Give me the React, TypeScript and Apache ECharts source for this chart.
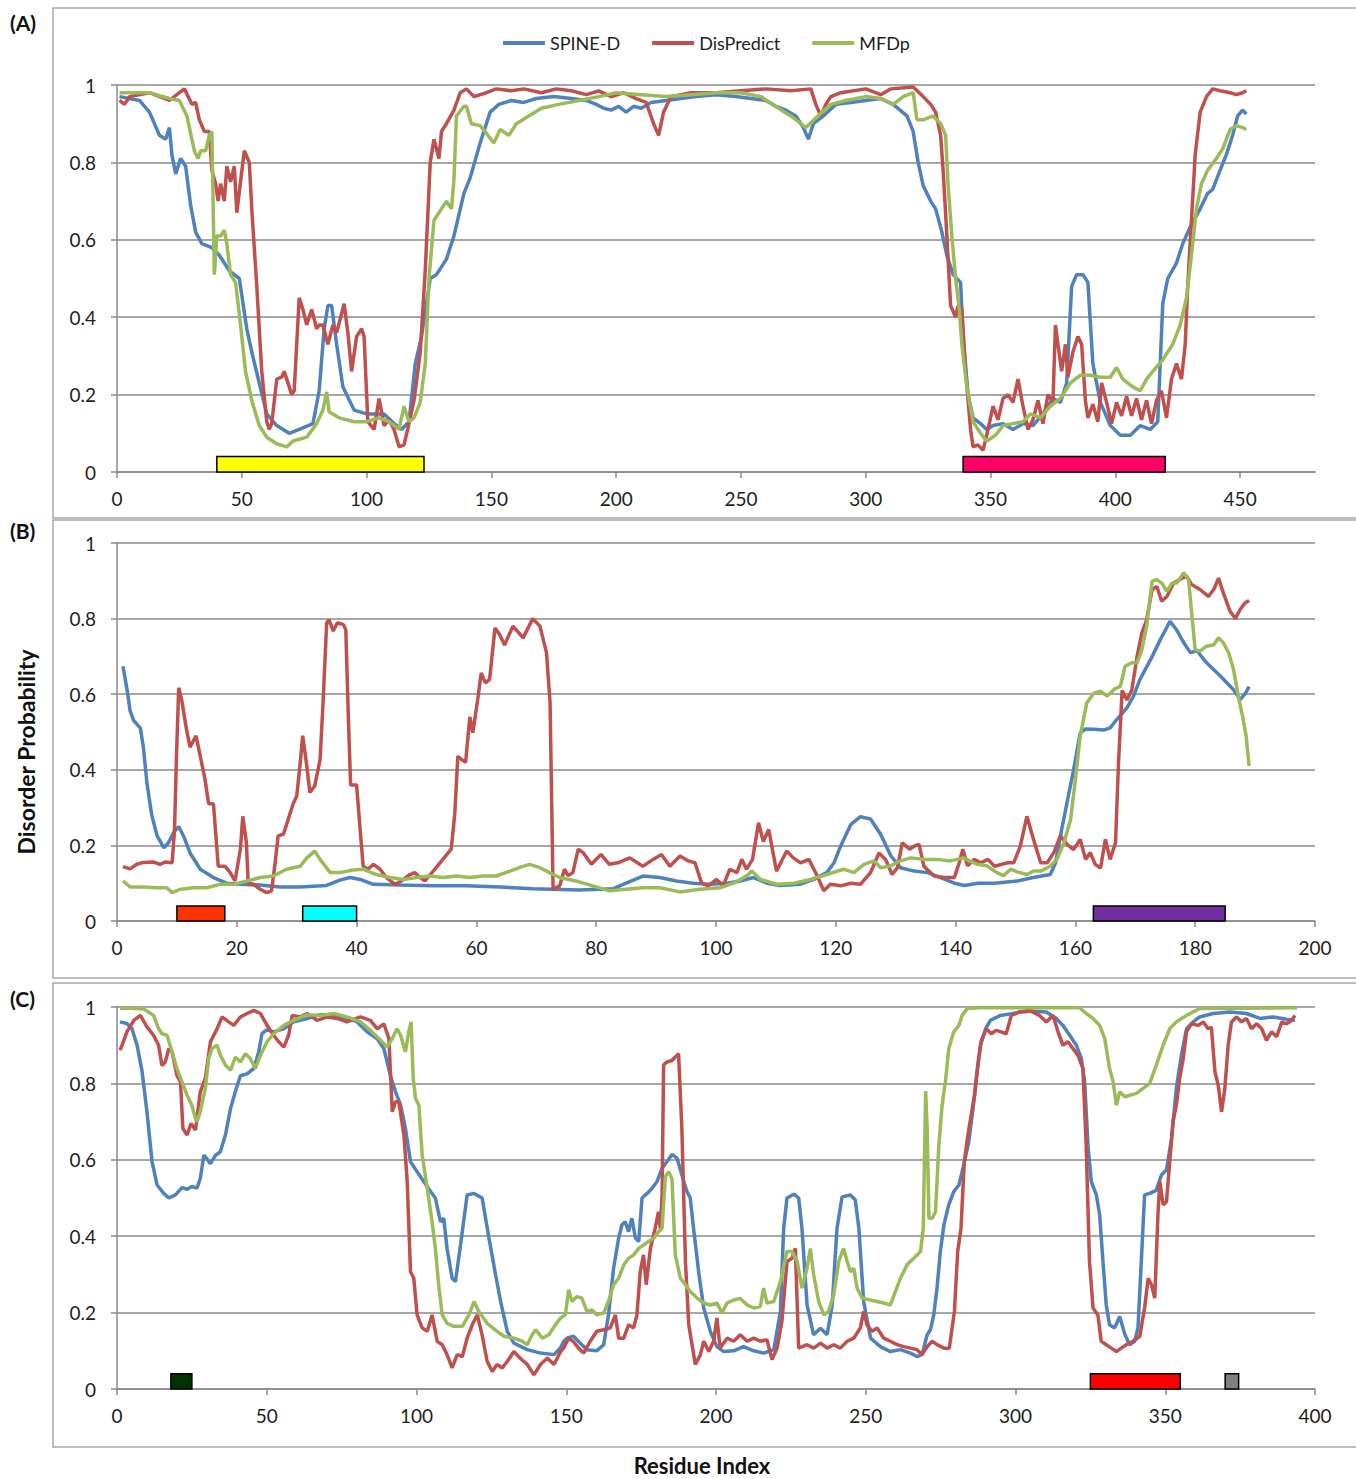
import React, { useEffect, useRef } from "react";
import * as echarts from "echarts";

const SERIES_NAMES = ["SPINE-D", "DisPredict", "MFDp"];
const SERIES_COLORS = ["#4F81BD", "#C0504D", "#9BBB59"];

const xTicksA = [0, 50, 100, 150, 200, 250, 300, 350, 400, 450];
const xTicksB = [0, 20, 40, 60, 80, 100, 120, 140, 160, 180, 200];
const xTicksC = [0, 50, 100, 150, 200, 250, 300, 350, 400];
const yTicks = [0, 0.2, 0.4, 0.6, 0.8, 1];
const xMaxA = 480;
const xMaxB = 200;
const xMaxC = 400;

// annotated regions [start residue, end residue]
const regionsA = [[40, 123], [339, 420]];
const regionColorsA = ["#FFFF00", "#FF0066"];
const regionsB = [[10, 18], [31, 40], [163, 185]];
const regionColorsB = ["#FF3300", "#00FFFF", "#7030A0"];
const regionsC = [[18, 25], [325, 355], [370, 374.5]];
const regionColorsC = ["#003300", "#FF0000", "#808080"];
const REGION_HEIGHT = 0.04;

// ---------- Panel A ----------
const spineA = [[1,0.97],[9,0.96],[13,0.93],[17,0.87],[19.5,0.86],[21,0.89],[22,0.82],[23.5,0.77],[25.5,0.81],[27.5,0.79],[29.5,0.69],[31.5,0.62],[34,0.59],[38,0.58],[41,0.56],[45,0.52],[49,0.50],[52,0.37],[54,0.31],[57,0.23],[60,0.15],[64,0.12],[69,0.10],[73,0.11],[78.5,0.125],[81,0.21],[83,0.37],[84.5,0.43],[86,0.43],[88,0.33],[90.5,0.22],[95,0.16],[100,0.15],[107,0.15],[111,0.125],[114,0.11],[117,0.13],[119.5,0.28],[122,0.35],[125.5,0.50],[128,0.51],[132,0.55],[135,0.61],[139,0.72],[141.5,0.76],[145.5,0.85],[149.5,0.93],[153,0.95],[158,0.96],[163,0.955],[168,0.965],[175,0.97],[182,0.965],[188,0.96],[192,0.95],[195,0.94],[198,0.935],[201,0.945],[204,0.93],[207,0.945],[210,0.94],[214,0.955],[220,0.96],[226,0.965],[232,0.97],[240,0.975],[248,0.97],[254,0.965],[260,0.96],[264,0.945],[268,0.935],[272,0.92],[275,0.89],[277,0.86],[279,0.9],[283,0.92],[288,0.95],[294,0.955],[300,0.96],[306,0.965],[311,0.95],[316.5,0.92],[319,0.88],[321,0.80],[323,0.74],[326,0.70],[328,0.68],[330.5,0.62],[332.5,0.56],[335,0.51],[338,0.49],[339,0.35],[341,0.20],[343,0.14],[346,0.125],[348.5,0.11],[351,0.12],[355,0.125],[359,0.11],[363,0.125],[367,0.12],[371,0.15],[375,0.19],[378,0.18],[380.5,0.23],[382.5,0.48],[384.5,0.51],[387,0.51],[389,0.49],[391,0.28],[394,0.18],[398,0.12],[402,0.095],[406,0.095],[410,0.12],[414,0.11],[417,0.13],[419,0.435],[421,0.50],[424.5,0.54],[427,0.59],[430.5,0.64],[434,0.68],[437,0.72],[439,0.73],[442,0.78],[444.5,0.82],[447,0.87],[449,0.92],[451,0.935],[452.5,0.925]];

const dispredA = [[1,0.96],[3,0.95],[5,0.97],[13,0.98],[21,0.96],[25,0.98],[27,0.99],[30,0.95],[31.5,0.955],[33,0.91],[35,0.88],[37,0.88],[38,0.78],[39.5,0.745],[40.5,0.70],[41.5,0.745],[43,0.70],[44,0.79],[45.5,0.75],[47,0.79],[48,0.67],[49.5,0.75],[51,0.83],[53,0.80],[54,0.68],[56,0.48],[58,0.26],[60,0.13],[61,0.11],[62,0.125],[64,0.24],[66,0.245],[67,0.26],[70,0.20],[71,0.21],[73,0.45],[74.5,0.42],[76,0.38],[78,0.42],[80,0.37],[81,0.38],[82.5,0.38],[84.5,0.33],[86.5,0.38],[88,0.36],[90,0.41],[91,0.435],[92.5,0.36],[94,0.26],[96,0.35],[98,0.37],[99,0.35],[100.5,0.13],[103,0.11],[105,0.19],[107,0.12],[109,0.135],[111,0.11],[113,0.065],[115,0.07],[117,0.125],[119,0.185],[121.5,0.31],[123.5,0.52],[125.5,0.80],[127,0.86],[129,0.81],[130,0.88],[132,0.90],[135,0.935],[137.5,0.98],[140,0.99],[143,0.97],[148,0.98],[152,0.99],[158,0.985],[163,0.99],[170,0.98],[176,0.99],[182,0.985],[188,0.975],[193,0.985],[198,0.97],[203,0.98],[208,0.965],[212,0.955],[215,0.9],[217,0.87],[219,0.93],[222,0.97],[230,0.98],[240,0.98],[250,0.985],[260,0.99],[270,0.985],[278,0.99],[280,0.95],[282,0.92],[284,0.95],[286,0.97],[290,0.98],[300,0.99],[306,0.975],[310,0.99],[319,0.995],[323,0.97],[326,0.95],[328,0.93],[330,0.87],[331,0.78],[332.5,0.61],[334,0.43],[336,0.40],[337,0.43],[338.5,0.42],[340,0.26],[342,0.11],[343,0.065],[345,0.07],[347,0.056],[349,0.11],[351,0.17],[353,0.135],[355,0.19],[357,0.20],[359,0.18],[361,0.24],[363,0.17],[365,0.11],[367,0.135],[369,0.185],[371,0.125],[373,0.20],[375,0.18],[376,0.38],[377,0.33],[378.5,0.26],[380,0.33],[381,0.245],[383,0.31],[385,0.35],[386.5,0.33],[388,0.185],[389,0.14],[391,0.175],[393,0.13],[394.5,0.23],[396.5,0.18],[398.5,0.125],[400.5,0.18],[402.5,0.145],[404.5,0.195],[406.5,0.145],[408.5,0.19],[410.5,0.135],[412.5,0.185],[414.5,0.125],[416.5,0.185],[418.5,0.21],[420.5,0.14],[422.5,0.24],[424.5,0.28],[426.5,0.24],[428,0.33],[429,0.48],[430.5,0.65],[432,0.82],[434,0.93],[436.5,0.97],[439,0.99],[442,0.985],[446,0.98],[448.5,0.975],[451,0.98],[452.5,0.985]];

const mfdpA = [[1,0.98],[13,0.98],[21,0.965],[25,0.96],[28,0.92],[31,0.83],[32.5,0.81],[33.5,0.83],[35.5,0.83],[37,0.87],[38,0.88],[39,0.51],[40,0.61],[41.5,0.61],[43,0.625],[44,0.59],[45.5,0.51],[47.5,0.49],[49.5,0.38],[51.5,0.26],[54,0.185],[57,0.12],[60,0.09],[64,0.073],[68,0.065],[70.5,0.08],[76,0.09],[80,0.125],[82.5,0.16],[84,0.207],[85,0.155],[89,0.14],[95,0.13],[100,0.13],[105,0.14],[109,0.13],[113,0.11],[115,0.17],[117,0.13],[119,0.14],[121.5,0.18],[123.5,0.28],[125,0.50],[127,0.65],[130,0.68],[132,0.70],[134,0.68],[135,0.755],[136,0.92],[139,0.945],[140,0.945],[142,0.90],[145.5,0.895],[148,0.875],[151,0.85],[153.5,0.885],[157,0.87],[160,0.90],[165,0.92],[170,0.94],[177,0.95],[185,0.96],[193,0.97],[200,0.98],[210,0.975],[220,0.97],[230,0.975],[240,0.98],[250,0.98],[258,0.97],[265,0.94],[270,0.92],[274,0.9],[276,0.89],[280,0.915],[286,0.95],[292,0.96],[300,0.97],[306,0.965],[311,0.95],[315,0.97],[319,0.98],[320.5,0.91],[323,0.91],[327,0.92],[330,0.90],[332,0.87],[333,0.74],[334.5,0.61],[336,0.50],[337.5,0.42],[338.5,0.33],[340.5,0.22],[343,0.13],[346,0.10],[348.5,0.08],[352,0.095],[355,0.12],[359,0.125],[363,0.13],[366,0.15],[370,0.14],[374,0.17],[378,0.19],[382,0.23],[386,0.25],[390,0.25],[394,0.245],[398,0.245],[400.5,0.27],[403,0.24],[407,0.22],[410,0.21],[412.5,0.24],[415,0.26],[419,0.29],[423,0.33],[426,0.38],[428.5,0.45],[430.5,0.56],[432.5,0.68],[434.5,0.745],[437,0.78],[440.5,0.81],[443,0.835],[446,0.885],[448.5,0.895],[451,0.89],[452.5,0.885]];

// ---------- Panel B ----------
const spineB = [[1,0.674],[1.7,0.61],[2.2,0.555],[2.8,0.53],[3.9,0.51],[4.4,0.46],[5,0.365],[5.8,0.28],[6.7,0.225],[7.8,0.194],[8.6,0.207],[9.4,0.233],[10.3,0.25],[11.1,0.225],[12.2,0.18],[13.9,0.137],[16.1,0.115],[18.3,0.10],[20.6,0.097],[23.9,0.095],[27.2,0.09],[30.6,0.09],[35,0.094],[37.2,0.108],[38.9,0.115],[40.6,0.11],[42.8,0.097],[47.2,0.095],[52.8,0.093],[58.3,0.093],[63.9,0.09],[69.4,0.085],[77.2,0.082],[82.8,0.085],[85,0.10],[87.8,0.119],[90.6,0.115],[93.4,0.106],[96.2,0.1],[99,0.097],[101.8,0.1],[104,0.106],[106.3,0.115],[108.5,0.1],[110.7,0.094],[114,0.097],[116.3,0.11],[118.5,0.128],[119.7,0.154],[120.8,0.198],[122.5,0.255],[124.1,0.276],[125.8,0.27],[127.5,0.229],[129.2,0.172],[130.8,0.141],[133.1,0.132],[135.3,0.128],[137.5,0.115],[139.8,0.10],[141.5,0.094],[143.7,0.1],[146.5,0.10],[150.3,0.106],[153,0.115],[155.8,0.123],[156.7,0.154],[157.5,0.225],[158.6,0.313],[159.7,0.40],[160.8,0.498],[161.7,0.508],[163.1,0.507],[164.7,0.505],[165.8,0.511],[166.9,0.533],[168.6,0.564],[169.7,0.595],[170.8,0.64],[172.5,0.69],[174.2,0.745],[175.8,0.793],[176.9,0.77],[178.1,0.736],[179.2,0.71],[180.3,0.715],[181.9,0.683],[184.2,0.648],[186.4,0.612],[187.5,0.586],[188.3,0.6],[189,0.62]];

const dispredB = [[1,0.144],[2.2,0.138],[3.3,0.15],[4.4,0.155],[6.1,0.156],[7.2,0.15],[8,0.156],[9.2,0.154],[9.6,0.24],[9.9,0.42],[10.3,0.617],[10.8,0.585],[11.6,0.507],[12.2,0.46],[13.2,0.49],[13.9,0.436],[14.7,0.374],[15.3,0.31],[16.1,0.31],[16.9,0.145],[18,0.145],[18.9,0.128],[19.7,0.106],[20.6,0.19],[21,0.277],[21.6,0.207],[21.9,0.10],[22.8,0.097],[23.9,0.084],[25,0.075],[25.8,0.08],[26.4,0.154],[26.9,0.225],[27.8,0.23],[28.6,0.27],[29.4,0.31],[30,0.33],[30.6,0.42],[31,0.49],[31.6,0.42],[32.2,0.34],[33,0.357],[33.9,0.427],[34.4,0.577],[35,0.789],[35.4,0.797],[36.1,0.767],[36.8,0.789],[37.8,0.784],[38.2,0.77],[38.6,0.55],[39,0.36],[40,0.36],[40.6,0.24],[41.1,0.145],[41.9,0.137],[42.8,0.15],[43.9,0.137],[45,0.115],[46.4,0.097],[47.5,0.106],[48.9,0.123],[49.7,0.128],[50.6,0.115],[51.4,0.106],[52.8,0.132],[54.4,0.163],[55.8,0.19],[56.4,0.286],[56.9,0.436],[57.5,0.427],[58.2,0.42],[58.9,0.54],[59.4,0.498],[60.3,0.595],[60.8,0.656],[61.5,0.63],[62.2,0.639],[63.1,0.775],[63.9,0.757],[64.7,0.73],[66.1,0.78],[67.8,0.749],[69.4,0.80],[70.6,0.78],[71.7,0.71],[72.3,0.577],[72.8,0.084],[73.9,0.093],[74.7,0.137],[75.3,0.12],[76.1,0.128],[77,0.19],[77.8,0.181],[79.2,0.15],[80.8,0.176],[82.2,0.15],[83.6,0.154],[85.6,0.167],[87.8,0.145],[89.5,0.163],[90.9,0.176],[92.3,0.145],[94,0.172],[95.4,0.159],[96.5,0.154],[97.6,0.10],[98.7,0.093],[100.1,0.11],[101.2,0.093],[102.3,0.137],[103.5,0.128],[104.3,0.163],[105.1,0.137],[106.1,0.163],[107.1,0.26],[107.9,0.21],[108.8,0.242],[110.1,0.132],[111.8,0.185],[112.9,0.167],[114.1,0.154],[115.5,0.163],[116.9,0.119],[118,0.08],[119.1,0.097],[120.8,0.093],[122.5,0.1],[124.1,0.097],[125.8,0.128],[127.2,0.18],[128.3,0.163],[129.4,0.123],[130.3,0.141],[131.1,0.207],[132.3,0.19],[133.1,0.198],[133.9,0.203],[134.7,0.145],[136.4,0.119],[138.1,0.115],[139.8,0.115],[140.6,0.154],[141.2,0.19],[142,0.146],[143.1,0.163],[144.2,0.154],[145.4,0.163],[146.5,0.145],[148.7,0.154],[149.7,0.154],[150.8,0.198],[151.9,0.277],[153,0.216],[154.2,0.154],[155.3,0.154],[156.4,0.181],[157.5,0.225],[158.6,0.203],[159.7,0.189],[160.8,0.216],[161.7,0.163],[162.5,0.181],[163.3,0.15],[164.2,0.14],[165,0.216],[165.8,0.163],[166.7,0.207],[167.2,0.42],[167.8,0.61],[168.6,0.585],[169.4,0.61],[170.3,0.70],[171.1,0.762],[171.9,0.797],[172.8,0.877],[173.6,0.885],[174.4,0.846],[175.3,0.859],[176.4,0.894],[177.8,0.907],[178.6,0.912],[179.4,0.89],[180.8,0.877],[182.2,0.859],[183.1,0.877],[183.9,0.907],[184.7,0.868],[185.8,0.82],[186.7,0.80],[187.5,0.824],[188.3,0.841],[189,0.848]];

const mfdpB = [[1,0.106],[2.2,0.09],[4.4,0.09],[6.7,0.088],[8.3,0.088],[9.2,0.075],[10.6,0.084],[12.8,0.088],[15,0.088],[17.2,0.097],[19.4,0.097],[21.7,0.106],[23.9,0.115],[26.1,0.119],[28.3,0.137],[30.6,0.145],[31.7,0.167],[33,0.185],[33.9,0.163],[35.6,0.128],[37.2,0.128],[39.4,0.135],[41.1,0.137],[43.3,0.123],[45.6,0.115],[47.8,0.11],[50,0.115],[52.2,0.119],[54.4,0.115],[56.7,0.119],[58.9,0.115],[61.1,0.119],[63.3,0.119],[65.6,0.132],[67.5,0.143],[68.9,0.15],[70.6,0.141],[72.2,0.128],[73.9,0.115],[76.6,0.106],[79.4,0.093],[82.2,0.08],[85,0.084],[87.8,0.088],[90.6,0.088],[94,0.077],[97.3,0.084],[100.7,0.088],[102.9,0.10],[105.1,0.119],[106,0.132],[107.4,0.11],[110.2,0.097],[113,0.10],[115.8,0.11],[118.5,0.123],[121.3,0.137],[123,0.128],[124.7,0.15],[126.4,0.159],[127.5,0.141],[129.2,0.146],[130.8,0.159],[132.5,0.167],[134.7,0.163],[136.9,0.163],[139.1,0.159],[141.3,0.167],[143.6,0.15],[145.2,0.146],[146.9,0.128],[148,0.12],[149.2,0.137],[150.3,0.13],[151.9,0.123],[153,0.132],[154.2,0.132],[155.8,0.145],[156.9,0.163],[158.1,0.207],[159.2,0.269],[160,0.374],[160.8,0.489],[161.9,0.577],[163.1,0.603],[164.2,0.608],[165.3,0.595],[166.4,0.612],[167.5,0.621],[168.3,0.674],[169.4,0.683],[170.3,0.683],[171.1,0.718],[171.9,0.78],[172.8,0.899],[173.6,0.903],[174.4,0.894],[175.3,0.872],[176.1,0.894],[176.9,0.894],[178.1,0.921],[178.9,0.903],[179.4,0.815],[180,0.718],[180.8,0.714],[181.9,0.727],[183.1,0.731],[183.9,0.749],[184.7,0.736],[185.6,0.709],[186.4,0.665],[187.2,0.595],[187.9,0.542],[188.5,0.489],[189,0.41]];

// ---------- Panel C ----------
const spineC = [[1,0.961],[3.3,0.957],[5,0.943],[6.7,0.90],[8.4,0.83],[10,0.726],[11.7,0.595],[13.4,0.534],[15.6,0.512],[17.3,0.50],[19.5,0.508],[21.7,0.527],[23.4,0.523],[25,0.53],[26.7,0.526],[27.8,0.551],[29,0.612],[30,0.603],[31.2,0.59],[32.9,0.612],[34.5,0.621],[36.2,0.665],[37.9,0.734],[39.5,0.778],[41.2,0.82],[43.4,0.825],[45.7,0.839],[47.3,0.882],[48.4,0.93],[50,0.94],[52.3,0.935],[55.7,0.943],[59,0.961],[63.5,0.97],[67.9,0.98],[72.4,0.978],[76.8,0.97],[80.2,0.961],[83.5,0.935],[86.9,0.917],[89.1,0.891],[90.2,0.856],[91.3,0.82],[93,0.778],[94.7,0.743],[96.3,0.682],[98,0.595],[100.2,0.569],[102.4,0.543],[104.7,0.517],[106.3,0.50],[108,0.438],[109.1,0.447],[110.2,0.368],[111.9,0.29],[113,0.281],[114.7,0.377],[116.9,0.508],[119.2,0.512],[121.9,0.50],[124.2,0.395],[126.4,0.299],[128.1,0.229],[130.3,0.151],[132.5,0.12],[137,0.103],[141.4,0.094],[145.9,0.09],[148,0.107],[149.2,0.125],[150.2,0.133],[152.4,0.138],[154.7,0.12],[156.9,0.103],[160.2,0.10],[162.5,0.116],[164.1,0.194],[165.8,0.316],[167.5,0.395],[168.6,0.43],[169.7,0.438],[170.8,0.412],[171.9,0.447],[173.1,0.395],[174.2,0.386],[175.3,0.50],[177,0.512],[178.6,0.525],[180.3,0.543],[182,0.578],[183.6,0.595],[185.3,0.614],[187,0.604],[188.6,0.56],[190.3,0.517],[191.4,0.50],[192.5,0.421],[194.2,0.307],[195.9,0.212],[198.1,0.151],[200.3,0.111],[202.6,0.098],[205.9,0.1],[209.2,0.111],[212.6,0.1],[215.9,0.094],[219.3,0.103],[221.5,0.203],[222.6,0.421],[223.7,0.50],[226,0.51],[227.6,0.50],[228.7,0.421],[230.4,0.22],[232.6,0.142],[234.9,0.159],[237.1,0.142],[238.8,0.22],[240.4,0.421],[242.1,0.503],[244.9,0.508],[246.5,0.495],[247.7,0.421],[249.3,0.229],[251.6,0.133],[254.9,0.111],[258.2,0.098],[261.6,0.103],[264.9,0.094],[267.1,0.085],[268.8,0.09],[270.5,0.142],[271.6,0.155],[272.7,0.194],[273.8,0.264],[274.9,0.36],[276.1,0.43],[277.7,0.482],[279.4,0.517],[281.1,0.534],[282.7,0.586],[284.4,0.647],[286.1,0.752],[287.2,0.83],[288.3,0.90],[290,0.943],[291.6,0.965],[295,0.978],[298.3,0.982],[301.7,0.987],[305.8,0.989],[310.3,0.987],[313.6,0.97],[315.8,0.952],[318.1,0.926],[320.3,0.90],[322,0.865],[323.1,0.804],[324.2,0.638],[325.3,0.543],[327,0.508],[328.1,0.456],[329.2,0.334],[330.3,0.22],[331.4,0.168],[333.1,0.16],[334.8,0.19],[336.5,0.143],[338.1,0.116],[339.8,0.125],[340.9,0.16],[342,0.334],[343.1,0.508],[344.8,0.512],[347,0.52],[348.7,0.56],[350.4,0.573],[352.1,0.656],[353.7,0.787],[355.4,0.874],[357.1,0.943],[359.3,0.961],[361.5,0.974],[366,0.983],[371.6,0.987],[377.1,0.983],[381.6,0.97],[386.1,0.974],[390.5,0.968],[393.3,0.965]];

const dispredC = [[1,0.887],[1.7,0.9],[3.3,0.935],[5.6,0.965],[7.8,0.978],[10,0.948],[12.2,0.926],[13.9,0.90],[15,0.847],[16.1,0.856],[17.3,0.891],[18.4,0.882],[20,0.821],[21.2,0.804],[22,0.682],[23.4,0.665],[24.7,0.695],[26.2,0.678],[27.8,0.778],[29.5,0.813],[31.2,0.909],[33.4,0.943],[35.1,0.974],[37.3,0.961],[39,0.952],[41.2,0.974],[43.4,0.983],[45.7,0.991],[47.9,0.983],[50.1,0.952],[52.3,0.926],[54,0.909],[55.7,0.895],[57.3,0.926],[58.5,0.978],[61.2,0.974],[63.5,0.983],[66.8,0.965],[70.2,0.974],[73.5,0.97],[76.8,0.961],[81.3,0.974],[84.6,0.965],[86.9,0.943],[89.1,0.956],[90.8,0.917],[91.9,0.726],[93,0.752],[94.1,0.752],[95.8,0.665],[96.9,0.543],[98,0.307],[99.1,0.29],[100.2,0.194],[101.9,0.16],[103.6,0.151],[105.2,0.194],[106.9,0.125],[108.6,0.116],[110.2,0.09],[111.9,0.055],[113.6,0.09],[115.3,0.085],[116.9,0.133],[118.6,0.168],[120.3,0.194],[121.9,0.142],[123.6,0.072],[125.3,0.046],[126.9,0.064],[128.6,0.055],[130.3,0.072],[132.5,0.098],[134.7,0.08],[137,0.064],[139.2,0.037],[141.4,0.064],[143.7,0.081],[145.9,0.064],[148.1,0.098],[149.1,0.107],[150.8,0.133],[152.4,0.124],[154.1,0.107],[155.8,0.094],[158,0.125],[160.2,0.151],[162.5,0.155],[164.7,0.16],[166.4,0.194],[167.5,0.133],[169.2,0.133],[170.8,0.168],[172.5,0.16],[173.6,0.194],[174.7,0.307],[175.8,0.351],[176.7,0.273],[178.1,0.368],[179.7,0.421],[180.8,0.464],[181.4,0.42],[182,0.508],[182.5,0.848],[183.6,0.856],[185.3,0.86],[186.4,0.869],[187.5,0.878],[188.6,0.682],[189.8,0.334],[190.9,0.168],[192,0.116],[193.1,0.064],[194.8,0.09],[195.9,0.125],[197.6,0.098],[199.2,0.125],[200.3,0.186],[201.4,0.107],[203.7,0.133],[205.9,0.125],[208.1,0.142],[210.4,0.125],[212.6,0.133],[214.8,0.125],[217,0.129],[218.7,0.077],[220.4,0.107],[222,0.177],[223.7,0.334],[225.4,0.342],[226.5,0.368],[227.6,0.107],[230.4,0.116],[232.6,0.107],[234.9,0.12],[237.1,0.107],[239.3,0.116],[241.5,0.107],[243.8,0.125],[246,0.133],[248.2,0.16],[249.3,0.203],[250.4,0.168],[252.1,0.151],[253.8,0.16],[256,0.133],[258.2,0.125],[260.5,0.116],[262.7,0.111],[264.9,0.107],[267.1,0.103],[268.8,0.09],[270.5,0.111],[272.2,0.125],[273.8,0.116],[276.1,0.107],[277.9,0.107],[279.6,0.203],[280.7,0.36],[281.8,0.421],[282.9,0.595],[284.1,0.665],[285.2,0.717],[286.3,0.769],[287.4,0.848],[288.5,0.909],[290.2,0.943],[291.9,0.93],[293.5,0.939],[295.2,0.935],[296.9,0.93],[298.6,0.978],[301.3,0.987],[304.7,0.991],[308,0.978],[310.3,0.961],[312.5,0.978],[314.2,0.935],[315.8,0.90],[317.5,0.909],[319.2,0.891],[320.8,0.874],[322.5,0.839],[323.6,0.638],[324.7,0.334],[325.9,0.212],[327.5,0.194],[328.6,0.125],[330.3,0.116],[332,0.107],[333.7,0.098],[335.3,0.107],[337,0.116],[339.2,0.125],[341.5,0.138],[343.1,0.212],[344.3,0.29],[345.4,0.273],[346.5,0.238],[347.6,0.464],[348.2,0.543],[349.3,0.482],[350.4,0.49],[351.5,0.595],[352.6,0.70],[353.7,0.743],[354.8,0.813],[356,0.865],[357.1,0.935],[358.7,0.956],[361,0.952],[362.7,0.961],[364.3,0.943],[365.4,0.947],[366.6,0.83],[367.7,0.795],[368.8,0.726],[369.9,0.787],[371,0.90],[372.1,0.961],[373.8,0.974],[375.5,0.961],[377.1,0.97],[378.8,0.943],[380.5,0.956],[382.2,0.943],[383.8,0.913],[385.5,0.935],[387.2,0.922],[388.9,0.961],[390.5,0.956],[392.2,0.965],[393.3,0.978]];

const mfdpC = [[1,0.997],[4.5,0.997],[8.9,0.995],[12.2,0.978],[13.9,0.943],[15,0.93],[16.7,0.926],[18.4,0.882],[20,0.839],[21.7,0.804],[23.4,0.769],[25,0.743],[26.2,0.708],[26.7,0.70],[27.8,0.726],[29.5,0.787],[30.6,0.865],[31.7,0.891],[33.4,0.90],[34.5,0.874],[36.2,0.848],[37.9,0.834],[39.5,0.869],[41.2,0.856],[42.9,0.878],[44.5,0.865],[46.2,0.839],[47.9,0.874],[50.1,0.909],[52.3,0.93],[55.7,0.952],[59,0.965],[63.5,0.98],[67.9,0.978],[72.4,0.983],[76.8,0.974],[81.3,0.961],[84.6,0.939],[88,0.913],[90.2,0.895],[91.9,0.917],[93.5,0.943],[94.7,0.926],[96.3,0.882],[97.4,0.935],[98.2,0.961],[98.9,0.813],[99.7,0.76],[100.8,0.743],[101.9,0.612],[103.6,0.525],[105.2,0.438],[106.3,0.368],[107.5,0.264],[108.6,0.194],[110.2,0.172],[112.5,0.164],[115.3,0.164],[117.5,0.194],[119.2,0.229],[120.8,0.203],[123.6,0.172],[126.9,0.151],[129.2,0.138],[132.5,0.133],[135.3,0.125],[137,0.116],[138.6,0.142],[139.8,0.155],[142,0.133],[144.2,0.142],[146.4,0.168],[148.1,0.186],[149.7,0.194],[150.8,0.26],[151.9,0.229],[153.6,0.242],[155.2,0.238],[156.9,0.203],[158.6,0.207],[160.2,0.194],[162.5,0.199],[164.1,0.229],[165.8,0.273],[167.5,0.29],[169.2,0.325],[170.8,0.342],[172.5,0.351],[174.2,0.368],[175.8,0.377],[177.5,0.386],[179.2,0.395],[180.8,0.412],[182,0.421],[183.1,0.556],[184.2,0.569],[185.3,0.551],[186.4,0.351],[188.1,0.29],[189.8,0.273],[191.4,0.255],[193.7,0.238],[195.9,0.225],[198.1,0.22],[200.3,0.225],[202,0.199],[203.7,0.225],[205.9,0.233],[208.1,0.237],[210.4,0.22],[212.6,0.212],[214.8,0.216],[215.9,0.264],[217,0.225],[219.3,0.229],[221.5,0.281],[223.7,0.36],[225.4,0.36],[227.1,0.334],[228.7,0.264],[230.4,0.316],[231.5,0.368],[232.6,0.299],[234.3,0.229],[236,0.194],[237.6,0.203],[239.3,0.247],[241,0.334],[242.6,0.368],[243.8,0.334],[244.9,0.307],[246,0.316],[247.1,0.264],[248.8,0.238],[251,0.234],[253.8,0.229],[256,0.225],[258.2,0.22],[259.9,0.255],[261.6,0.29],[263.8,0.325],[266,0.342],[268.3,0.36],[269.2,0.421],[270,0.78],[270.5,0.682],[271.1,0.447],[272.2,0.447],[273.3,0.464],[274.4,0.638],[275.5,0.743],[276.6,0.804],[277.7,0.891],[279.4,0.935],[281.1,0.952],[282.2,0.978],[283.9,0.996],[288,0.998],[321.4,0.998],[323.6,0.983],[325.9,0.97],[328.1,0.952],[329.8,0.917],[331.4,0.839],[332.6,0.804],[333.7,0.743],[334.8,0.778],[336.5,0.765],[338.1,0.769],[340.4,0.774],[342.6,0.787],[344.8,0.80],[347,0.848],[349.3,0.90],[351.5,0.943],[353.7,0.961],[357.1,0.978],[361.5,0.996],[394,0.998]];

const panelData = [
  [spineA, dispredA, mfdpA],
  [spineB, dispredB, mfdpB],
  [spineC, dispredC, mfdpC],
];
const panelRegions = [regionsA, regionsB, regionsC];
const panelRegionColors = [regionColorsA, regionColorsB, regionColorsC];
const panelXMax = [xMaxA, xMaxB, xMaxC];
const panelXTicks = [xTicksA, xTicksB, xTicksC];

const FONT = "Lato, 'Open Sans', 'DejaVu Sans', sans-serif";
const AXIS_COLOR = "#8a8a8a";
const TEXT_COLOR = "#1e1e1e";
const GRIDS = [
  { left: 117, top: 85, width: 1198, height: 387 },
  { left: 117, top: 543, width: 1198, height: 378 },
  { left: 117, top: 1007, width: 1198, height: 382 },
];
const BOXES = [
  { x: 53, y: 8, h: 510 },
  { x: 53, y: 520, h: 458 },
  { x: 53, y: 983, h: 464 },
];
const PANEL_LABELS = ["(A)", "(B)", "(C)"];
const PANEL_LABEL_Y = [22, 530, 998];

function buildOption() {
  const xAxis = panelXTicks.map((ticks, i) => ({
    type: "value",
    gridIndex: i,
    min: 0,
    max: panelXMax[i],
    interval: ticks[1] - ticks[0],
    axisLine: { show: true, onZero: false, lineStyle: { color: AXIS_COLOR, width: 1.5 } },
    axisTick: { show: true, length: 6, customValues: ticks, lineStyle: { color: AXIS_COLOR, width: 1.5 } },
    axisLabel: {
      customValues: ticks,
      fontSize: 19,
      fontFamily: FONT,
      color: TEXT_COLOR,
      margin: 17,
    },
    splitLine: { show: false },
  }));
  const yAxis = panelXTicks.map((_, i) => ({
    type: "value",
    gridIndex: i,
    min: 0,
    max: 1,
    interval: 0.2,
    axisLine: { show: true, lineStyle: { color: AXIS_COLOR, width: 1.5 } },
    axisTick: { show: true, length: 6, customValues: yTicks, lineStyle: { color: AXIS_COLOR, width: 1.5 } },
    axisLabel: {
      customValues: yTicks,
      fontSize: 19,
      fontFamily: FONT,
      color: TEXT_COLOR,
      margin: 21,
    },
    splitLine: { show: true, lineStyle: { color: AXIS_COLOR, width: 1.5 } },
  }));

  const series: any[] = [];
  panelData.forEach((lines, p) => {
    series.push({
      type: "custom",
      xAxisIndex: p,
      yAxisIndex: p,
      silent: true,
      z: 1,
      encode: { x: [0, 1], y: 2 },
      data: panelRegions[p].map((r, j) => ({
        value: [r[0], r[1], REGION_HEIGHT],
        itemStyle: { color: panelRegionColors[p][j] },
      })),
      renderItem: (params: any, api: any) => {
        const p0 = api.coord([api.value(0), 0]);
        const p1 = api.coord([api.value(1), api.value(2)]);
        return {
          type: "rect",
          shape: { x: p0[0], y: p1[1], width: p1[0] - p0[0], height: p0[1] - p1[1] },
          style: { fill: api.visual("color"), stroke: "#000", lineWidth: 1.5 },
        };
      },
    });
    lines.forEach((d, k) => {
      series.push({
        type: "line",
        name: SERIES_NAMES[k],
        xAxisIndex: p,
        yAxisIndex: p,
        data: d,
        symbol: "none",
        showSymbol: false,
        color: SERIES_COLORS[k],
        itemStyle: { color: SERIES_COLORS[k] },
        lineStyle: { color: SERIES_COLORS[k], width: 3.5 },
        z: 3 + k,
      });
    });
  });

  const graphic: any[] = [];
  BOXES.forEach((b) => {
    graphic.push({
      type: "rect",
      z: -1,
      silent: true,
      shape: { x: b.x, y: b.y, width: 1360, height: b.h },
      style: { fill: "none", stroke: "#a8a8a8", lineWidth: 1.5 },
    });
  });
  PANEL_LABELS.forEach((t, i) => {
    graphic.push({
      type: "text",
      x: 10,
      y: PANEL_LABEL_Y[i],
      style: {
        text: t,
        font: `bold 21px ${FONT}`,
        fill: "#111",
        align: "left",
        verticalAlign: "middle",
        textAlign: "left",
        textVerticalAlign: "middle",
      },
    });
  });
  graphic.push({
    type: "text",
    x: 26,
    y: 752,
    rotation: Math.PI / 2,
    style: {
      text: "Disorder Probability",
      font: `bold 23px ${FONT}`,
      fill: "#111",
      align: "center",
      verticalAlign: "middle",
      textAlign: "center",
      textVerticalAlign: "middle",
    },
  });
  graphic.push({
    type: "text",
    x: 702,
    y: 1465,
    style: {
      text: "Residue Index",
      font: `bold 22px ${FONT}`,
      fill: "#111",
      align: "center",
      verticalAlign: "middle",
      textAlign: "center",
      textVerticalAlign: "middle",
    },
  });

  return {
    animation: false,
    backgroundColor: "#ffffff",
    textStyle: { fontFamily: FONT },
    grid: GRIDS.map((g) => ({ ...g, containLabel: false })),
    xAxis,
    yAxis,
    legend: {
      data: SERIES_NAMES,
      left: 498,
      top: 29,
      icon: "rect",
      itemWidth: 42,
      itemHeight: 4,
      itemGap: 32,
      selectedMode: false,
      textStyle: { fontSize: 18, fontFamily: FONT, color: TEXT_COLOR },
    },
    series,
    graphic,
  };
}

export default function App() {
  const ref = useRef<HTMLDivElement>(null);
  useEffect(() => {
    document.body.style.margin = "0";
    const chart = echarts.init(ref.current!, null, { renderer: "svg" });
    chart.setOption(buildOption() as any);
    return () => {
      chart.dispose();
    };
  }, []);
  return <div ref={ref} style={{ width: 1356, height: 1479, background: "#fff" }} />;
}
